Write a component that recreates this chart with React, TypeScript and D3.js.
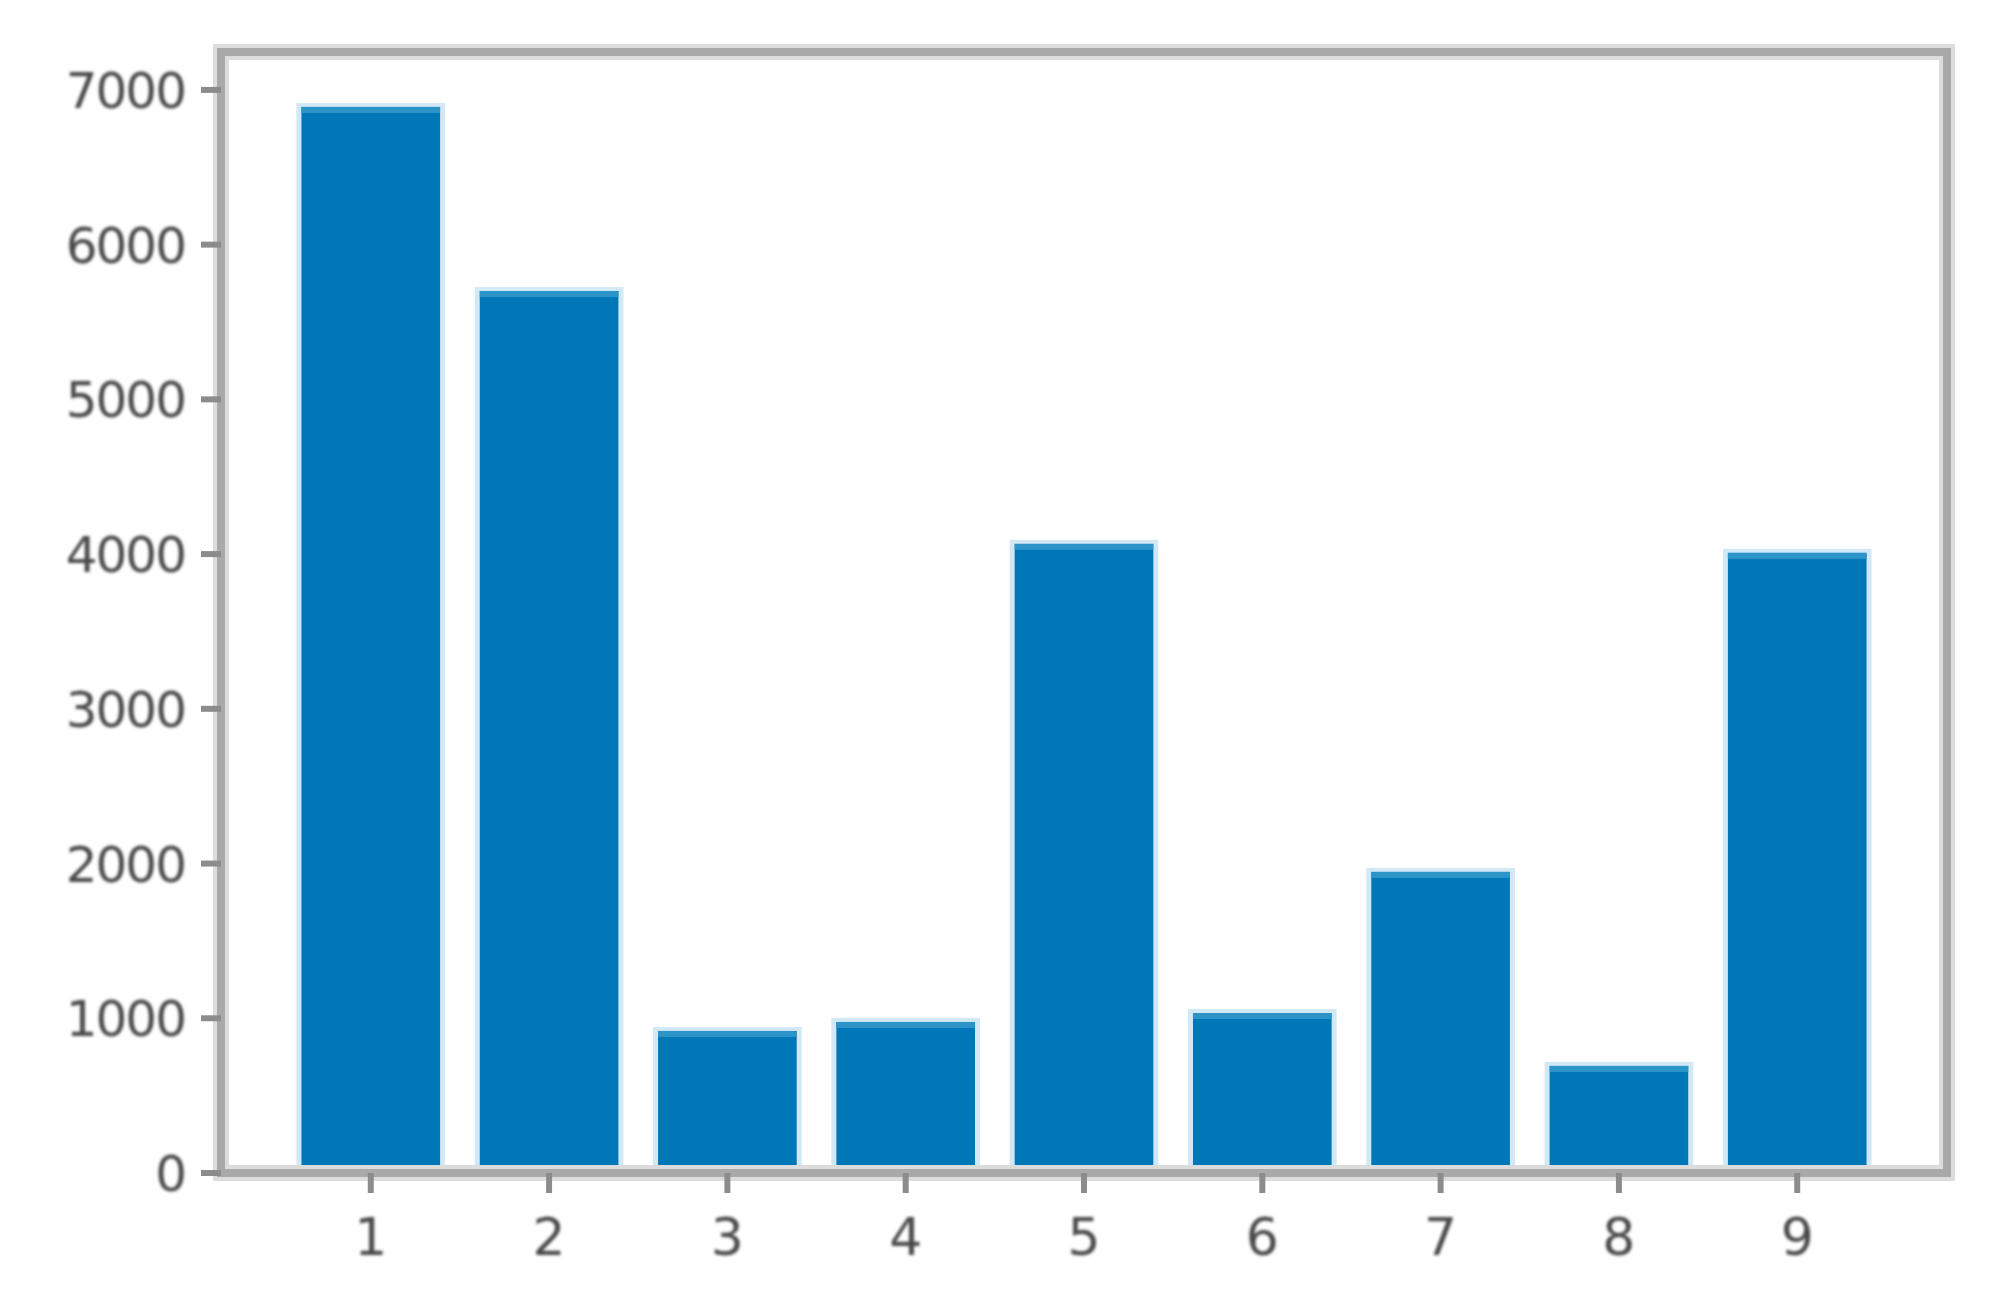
import React from "react";
import * as d3 from "d3";

const categories = [1, 2, 3, 4, 5, 6, 7, 8, 9];
const values = [6890, 5700, 918, 976, 4066, 1034, 1946, 692, 4008];
const yTicks = [0, 1000, 2000, 3000, 4000, 5000, 6000, 7000];

export default function App() {
  const W = 1999;
  const H = 1307;
  const left = 221;
  const right = 1947;
  const top = 52;
  const bottom = 1173;
  const x = d3.scaleLinear().domain([0.16, 9.84]).range([left, right]);
  const y = d3.scaleLinear().domain([0, 7245]).range([bottom, top]);
  const bw = x(0.8) - x(0);
  const font = "'DejaVu Sans', sans-serif";
  const textColor = "#4a4a4a";
  const axisColor = "#a9a9a9";

  return (
    <svg
      width={W}
      height={H}
      viewBox={`0 0 ${W} ${H}`}
      style={{ position: "absolute", left: 0, top: 0, background: "#fff" }}
    >
      <defs>
        <filter id="soft" x="-10%" y="-10%" width="120%" height="120%">
          <feGaussianBlur stdDeviation="1.8" />
        </filter>
      </defs>
      <rect x={0} y={0} width={W} height={H} fill="#fff" />

      {/* bars */}
      {categories.map((c, i) => {
        const x0 = x(c - 0.4);
        const yt = y(values[i]);
        return (
          <g key={c}>
            <rect
              x={x0 - 3}
              y={yt - 4}
              width={bw + 6}
              height={bottom - yt + 4}
              fill="#d2e8f4"
            />
            <rect
              x={x0 + 2}
              y={yt}
              width={bw - 4}
              height={bottom - yt}
              fill="#0078b8"
            />
            <rect x={x0 + 2} y={yt} width={bw - 4} height={6} fill="#2d94c8" />
          </g>
        );
      })}

      {/* frame halo */}
      <rect
        x={left}
        y={top}
        width={right - left}
        height={bottom - top}
        fill="none"
        stroke="#dcdcdc"
        strokeWidth={16}
      />
      {/* frame */}
      <rect
        x={left}
        y={top}
        width={right - left}
        height={bottom - top}
        fill="none"
        stroke={axisColor}
        strokeWidth={8}
      />

      {/* y ticks */}
      {yTicks.map((t) => (
        <g key={t} transform={`translate(0,${y(t)})`}>
          <line x1={left - 20} x2={left} y1={0} y2={0} stroke="#8c8c8c" strokeWidth={6} />
          <text
            x={left - 36}
            y={0}
            dy="0.36em"
            textAnchor="end"
            fontFamily={font}
            fontSize={50}
            letterSpacing={-2}
            fill={textColor}
            filter="url(#soft)"
          >
            {t}
          </text>
        </g>
      ))}

      {/* x ticks */}
      {categories.map((c) => (
        <g key={c} transform={`translate(${x(c)},0)`}>
          <line x1={0} x2={0} y1={bottom} y2={bottom + 20} stroke="#8c8c8c" strokeWidth={6} />
          <text
            x={0}
            y={bottom + 63}
            dy="0.36em"
            textAnchor="middle"
            fontFamily={font}
            fontSize={52}
            fill={textColor}
            filter="url(#soft)"
          >
            {c}
          </text>
        </g>
      ))}
    </svg>
  );
}
